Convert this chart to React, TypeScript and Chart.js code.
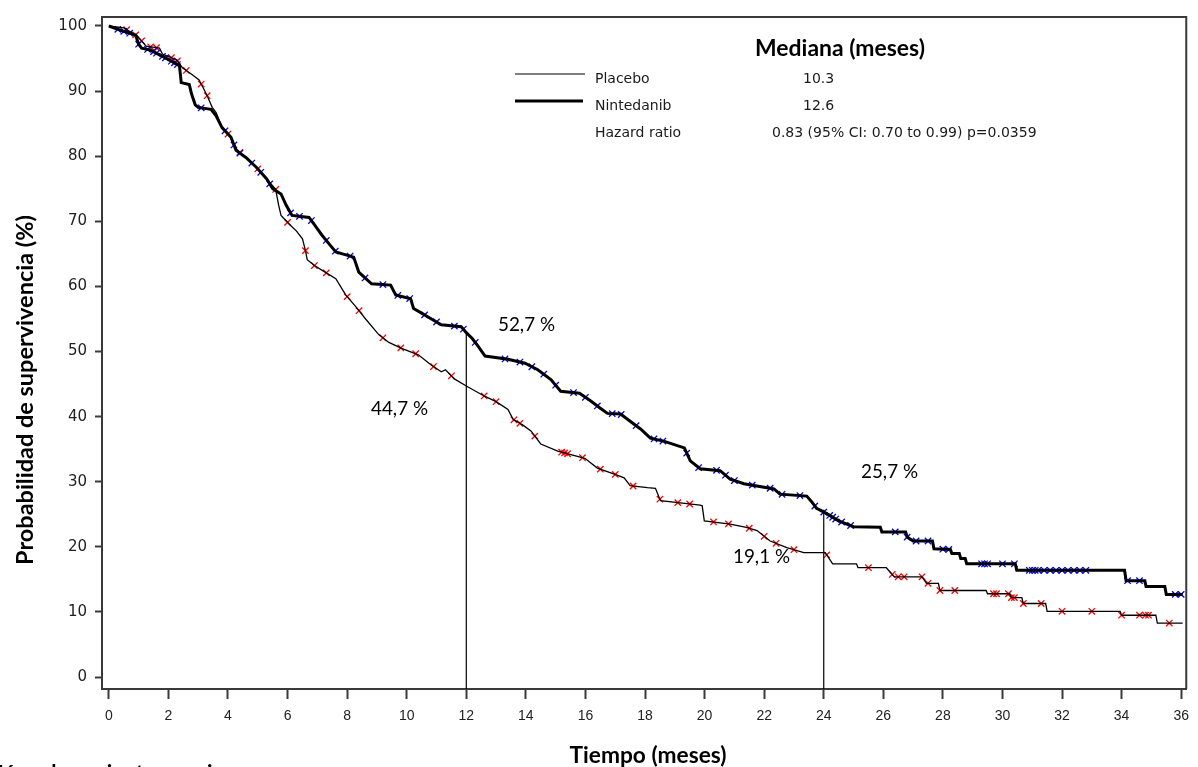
import React, { useEffect, useRef } from "react";
import { Chart, registerables } from "chart.js";

Chart.register(...registerables);

// ---------- data ----------
const xTicks = [0, 2, 4, 6, 8, 10, 12, 14, 16, 18, 20, 22, 24, 26, 28, 30, 32, 34, 36];
const yTicks = [0, 10, 20, 30, 40, 50, 60, 70, 80, 90, 100];

const nintedanibTimes = [0, 0.35, 0.9, 1.0, 1.1, 1.4, 1.9, 2.37, 2.43, 2.7, 2.78, 2.9, 3.0, 3.43, 3.6, 3.8, 4.1, 4.27, 4.6, 4.95, 5.3, 5.5, 5.78, 5.95, 6.15, 6.72, 6.9, 7.15, 7.4, 7.62, 8.22, 8.39, 8.6, 8.82, 9.46, 9.63, 10.13, 10.23, 10.5, 10.83, 11.16, 11.83, 12.0, 12.2, 12.4, 12.63, 13.4, 13.97, 14.4, 14.84, 15.17, 15.8, 16.18, 16.5, 16.74, 17.18, 17.5, 17.85, 18.18, 18.65, 19.32, 19.52, 19.85, 20.52, 20.86, 21.32, 22.33, 22.53, 23.43, 23.6, 23.76, 24.1, 24.5, 25.0, 25.9, 25.95, 26.75, 26.8, 27.0, 27.65, 27.7, 28.25, 28.3, 28.55, 28.6, 28.75, 28.8, 30.43, 30.48, 34.1, 34.15, 34.78, 34.82, 35.45, 35.5, 36.05];
const nintedanibSurv = [100, 99.4, 98.6, 97.2, 96.6, 96.3, 95.1, 93.9, 91.3, 91.0, 89.5, 87.9, 87.5, 87.2, 86.2, 84.4, 82.9, 80.9, 79.8, 78.3, 76.5, 75.0, 74.2, 72.5, 70.9, 70.6, 69.5, 67.9, 66.5, 65.3, 64.5, 62.2, 61.3, 60.4, 60.2, 58.7, 58.1, 56.6, 55.9, 55.0, 54.1, 53.8, 52.9, 52.0, 50.8, 49.3, 48.8, 48.2, 47.2, 45.7, 43.9, 43.6, 42.4, 41.3, 40.5, 40.4, 39.3, 38.1, 36.7, 36.2, 35.2, 33.2, 32.0, 31.7, 30.4, 29.7, 28.9, 28.1, 27.8, 26.9, 25.9, 25.1, 24.0, 23.1, 23.0, 22.3, 22.3, 21.5, 20.9, 20.9, 19.7, 19.6, 19.0, 19.0, 18.2, 18.2, 17.4, 17.4, 16.4, 16.4, 14.8, 14.8, 13.9, 13.9, 12.7, 12.7];

const placeboTimes = [0, 0.5, 0.95, 1.25, 1.7, 1.8, 2.27, 2.47, 2.8, 3.03, 3.2, 3.3, 3.47, 3.6, 3.8, 4.1, 4.3, 4.6, 4.95, 5.3, 5.6, 5.7, 5.78, 6.05, 6.3, 6.5, 6.6, 6.66, 6.9, 7.15, 7.62, 7.95, 8.29, 8.62, 9.06, 9.4, 9.83, 10.39, 10.8, 11.16, 11.3, 11.6, 12.0, 12.63, 13.0, 13.4, 13.57, 13.9, 14.17, 14.5, 15.07, 15.98, 16.4, 16.9, 17.3, 17.5, 18.08, 18.35, 18.52, 19.85, 19.92, 19.99, 20.86, 21.4, 21.76, 22.2, 22.76, 23.33, 24.05, 24.3, 25.1, 25.15, 26.1, 26.37, 27.3, 27.45, 27.85, 27.9, 29.45, 29.5, 30.25, 30.3, 30.65, 30.7, 31.45, 31.5, 33.95, 34.0, 35.15, 35.2, 36.05];
const placeboSurv = [100, 99.7, 98.5, 96.9, 96.6, 95.7, 94.8, 93.6, 92.5, 91.7, 90.2, 89.3, 87.5, 86.7, 84.4, 82.9, 81.0, 79.8, 78.3, 76.5, 74.9, 72.5, 70.9, 69.6, 68.5, 67.3, 65.5, 64.1, 63.2, 62.5, 61.2, 58.7, 56.9, 55.0, 52.6, 51.4, 50.5, 49.5, 48.0, 46.9, 47.2, 45.8, 44.7, 43.1, 42.3, 41.1, 39.6, 38.7, 37.8, 35.8, 34.7, 33.6, 32.1, 31.3, 30.6, 29.4, 29.1, 29.0, 27.1, 26.4, 26.3, 24.0, 23.5, 23.0, 22.5, 20.9, 19.9, 19.1, 19.1, 17.4, 17.4, 16.8, 16.8, 15.4, 15.4, 14.4, 14.4, 13.3, 13.3, 12.8, 12.8, 12.2, 12.2, 11.3, 11.3, 10.1, 10.1, 9.5, 9.5, 8.3, 8.3];

const nintedanibCensor = [0.3, 0.5, 0.7, 1.0, 1.3, 1.5, 1.6, 1.8, 1.9, 2.1, 2.2, 2.3, 3.1, 3.9, 4.2, 4.4, 4.8, 5.1, 5.4, 6.1, 6.4, 6.8, 7.3, 7.6, 8.1, 8.6, 9.2, 9.7, 10.1, 10.6, 11.0, 11.6, 11.9, 12.3, 13.3, 13.8, 14.2, 14.6, 15.0, 15.6, 16.0, 16.4, 16.9, 17.2, 17.7, 18.3, 18.6, 19.4, 19.8, 20.4, 20.7, 21.0, 21.6, 22.2, 22.6, 23.2, 23.7, 24.0, 24.2, 24.3, 24.4, 24.6, 24.9, 26.4, 26.8, 27.1, 27.5, 28.0, 28.2, 29.3, 29.4, 29.5, 30.0, 30.4, 30.9, 31.0, 31.1, 31.2, 31.4, 31.6, 31.8, 32.0, 32.2, 32.4, 32.6, 32.8, 34.2, 34.6, 35.8, 36.0];
const placeboCensor = [0.6, 0.9, 1.1, 1.4, 1.6, 2.1, 2.3, 2.6, 3.1, 3.3, 4.0, 4.4, 5.0, 5.6, 6.0, 6.6, 6.9, 7.3, 8.0, 8.4, 9.2, 9.8, 10.3, 10.9, 11.5, 12.6, 13.0, 13.6, 13.8, 14.3, 15.2, 15.3, 15.4, 15.9, 16.5, 17.0, 17.6, 18.5, 19.1, 19.5, 20.3, 20.8, 21.5, 22.0, 22.4, 23.0, 24.1, 25.5, 26.3, 26.5, 26.7, 27.3, 27.5, 27.9, 28.4, 29.7, 29.8, 30.2, 30.3, 30.4, 30.7, 31.3, 32.0, 33.0, 34.0, 34.6, 34.8, 34.9, 35.6];

const landmarkMonths = [12, 24];
const landmarkNintedanib = [52.7, 25.7];
const landmarkPlacebo = [44.7, 19.1];
const landmarkLabelsNintedanib = ["52,7 %", "25,7 %"];
const landmarkLabelsPlacebo = ["44,7 %", "19,1 %"];

const seriesNames = ["Placebo", "Nintedanib"];
const medianMonths = ["10.3", "12.6"];
const hazardLabel = "Hazard ratio";
const hazardText = "0.83 (95% CI: 0.70 to 0.99) p=0.0359";
const medianTitle = "Mediana (meses)";
const xTitle = "Tiempo (meses)";
const yTitle = "Probabilidad de supervivencia (%)";
const riskTitle = "Núm. de pacientes en riesgo";

const X_MIN = -0.23;
const X_MAX = 36.17;
const Y_MIN = -1.83;
const Y_MAX = 101.38;

function curveAt(ts: number[], ss: number[], t: number): number {
  if (t <= ts[0]) return ss[0];
  for (let i = 1; i < ts.length; i++) {
    if (t <= ts[i]) {
      const f = (t - ts[i - 1]) / (ts[i] - ts[i - 1] || 1);
      return ss[i - 1] + f * (ss[i] - ss[i - 1]);
    }
  }
  return ss[ss.length - 1];
}

function fitFont(ctx: CanvasRenderingContext2D, text: string, weight: string, family: string, width: number) {
  ctx.font = `${weight} 100px ${family}`;
  const w = ctx.measureText(text).width;
  const size = (100 * width) / w;
  ctx.font = `${weight} ${size.toFixed(2)}px ${family}`;
  return size;
}

const textPlugin = {
  id: "kmText",
  afterDraw(chart: any) {
    const ctx: CanvasRenderingContext2D = chart.ctx;
    const area = chart.chartArea;
    ctx.save();
    // frame (top and right)
    ctx.strokeStyle = "#3a3a3a";
    ctx.lineWidth = 2;
    ctx.beginPath();
    ctx.moveTo(area.left, area.top);
    ctx.lineTo(area.right, area.top);
    ctx.lineTo(area.right, area.bottom);
    ctx.stroke();

    const calibri = "Lato, 'Open Sans', sans-serif";
    ctx.fillStyle = "#000";
    ctx.textAlign = "left";
    ctx.textBaseline = "alphabetic";

    // median title
    fitFont(ctx, medianTitle, "bold", calibri, 170);
    ctx.fillText(medianTitle, 755, 56);

    // legend
    ctx.font = "14px 'DejaVu Sans'";
    ctx.fillStyle = "#1a1a1a";
    ctx.textBaseline = "middle";
    ctx.fillText(seriesNames[0], 595, 79);
    ctx.fillText(seriesNames[1], 595, 106);
    ctx.fillText(hazardLabel, 595, 133);
    ctx.fillText(medianMonths[0], 803, 79);
    ctx.fillText(medianMonths[1], 803, 106);
    ctx.fillText(hazardText, 772, 133);

    ctx.strokeStyle = "#000";
    ctx.lineWidth = 1.2;
    ctx.beginPath();
    ctx.moveTo(515, 74);
    ctx.lineTo(585, 74);
    ctx.stroke();
    ctx.lineWidth = 3;
    ctx.beginPath();
    ctx.moveTo(515, 101);
    ctx.lineTo(583, 101);
    ctx.stroke();

    // landmark annotations
    ctx.fillStyle = "#000";
    ctx.textBaseline = "alphabetic";
    fitFont(ctx, landmarkLabelsNintedanib[0], "normal", calibri, 57);
    ctx.fillText(landmarkLabelsNintedanib[0], 498, 331);
    ctx.fillText(landmarkLabelsPlacebo[0], 371, 415);
    ctx.fillText(landmarkLabelsNintedanib[1], 861, 478);
    ctx.fillText(landmarkLabelsPlacebo[1], 733, 563);

    // axis titles
    fitFont(ctx, xTitle, "bold", calibri, 157);
    ctx.textAlign = "center";
    ctx.fillText(xTitle, 648, 763);

    const rSize = fitFont(ctx, riskTitle, "bold", calibri, 270);
    ctx.textAlign = "right";
    ctx.fillText(riskTitle, 257, 764 + rSize * 0.72);

    ctx.save();
    ctx.translate(25, 390);
    ctx.rotate(-Math.PI / 2);
    fitFont(ctx, yTitle, "bold", calibri, 350);
    ctx.textAlign = "center";
    ctx.textBaseline = "middle";
    ctx.fillText(yTitle, 0, 0);
    ctx.restore();

    ctx.restore();
  },
};

export default function App() {
  const canvasRef = useRef<HTMLCanvasElement | null>(null);

  useEffect(() => {
    const canvas = canvasRef.current;
    if (!canvas) return;

    const nData = nintedanibTimes.map((t, i) => ({ x: t, y: nintedanibSurv[i] }));
    const pData = placeboTimes.map((t, i) => ({ x: t, y: placeboSurv[i] }));
    const nCens = nintedanibCensor.map((t) => ({ x: t, y: curveAt(nintedanibTimes, nintedanibSurv, t) }));
    const pCens = placeboCensor.map((t) => ({ x: t, y: curveAt(placeboTimes, placeboSurv, t) }));

    const landmarkSets = landmarkMonths.map((m, i) => ({
      label: "landmark" + m,
      data: [
        { x: m, y: Y_MIN },
        { x: m, y: landmarkNintedanib[i] },
      ],
      borderColor: "#000",
      borderWidth: 1.2,
      pointRadius: 0,
      order: 0,
    }));

    const axisColor = "#3a3a3a";

    const chart = new Chart(canvas, {
      type: "line",
      data: {
        datasets: [
          {
            label: "Nintedanib",
            data: nData,
            borderColor: "#000",
            borderWidth: 3,
            pointRadius: 0,
            order: 1,
          },
          {
            label: "Placebo",
            data: pData,
            borderColor: "#000",
            borderWidth: 1.3,
            pointRadius: 0,
            order: 1,
          },
          {
            label: "Nintedanib censored",
            data: nCens,
            showLine: false,
            pointStyle: "crossRot",
            pointRadius: 4.5,
            pointBorderWidth: 1.3,
            pointBorderColor: "#0000ff",
            borderColor: "#0000ff",
            order: 3,
          },
          {
            label: "Placebo censored",
            data: pCens,
            showLine: false,
            pointStyle: "crossRot",
            pointRadius: 4.5,
            pointBorderWidth: 1.3,
            pointBorderColor: "#ff0000",
            borderColor: "#ff0000",
            order: 3,
          },
          ...landmarkSets,
        ] as any,
      },
      options: {
        animation: false,
        responsive: false,
        devicePixelRatio: 1,
        layout: { padding: { left: 0, top: 14, right: 4, bottom: 0 } },
        plugins: {
          legend: { display: false },
          tooltip: { enabled: false },
        },
        elements: { line: { tension: 0 } },
        scales: {
          x: {
            type: "linear",
            min: X_MIN,
            max: X_MAX,
            afterFit: (scale: any) => {
              scale.height = 78;
            },
            afterBuildTicks: (scale: any) => {
              scale.ticks = xTicks.map((v) => ({ value: v }));
            },
            grid: {
              drawOnChartArea: false,
              drawTicks: true,
              tickLength: 10,
              tickColor: axisColor,
              tickWidth: 2,
            },
            border: { display: true, color: axisColor, width: 2 },
            ticks: {
              color: "#222",
              font: { family: "'Liberation Sans'", size: 14 },
              padding: 9,
              maxRotation: 0,
              autoSkip: false,
            },
          },
          y: {
            type: "linear",
            min: Y_MIN,
            max: Y_MAX,
            afterFit: (scale: any) => {
              scale.width = 102;
            },
            afterBuildTicks: (scale: any) => {
              scale.ticks = yTicks.map((v) => ({ value: v }));
            },
            grid: {
              drawOnChartArea: false,
              drawTicks: true,
              tickLength: 7,
              tickColor: axisColor,
              tickWidth: 2,
            },
            border: { display: true, color: axisColor, width: 2 },
            ticks: {
              color: "#222",
              font: { family: "'DejaVu Sans'", size: 15 },
              padding: 8,
              autoSkip: false,
            },
          },
        },
      } as any,
      plugins: [textPlugin],
    });

    return () => {
      chart.destroy();
    };
  }, []);

  return (
    <div style={{ position: "absolute", left: 0, top: 0, width: 1198, height: 767, background: "#fff", overflow: "hidden" }}>
      <canvas ref={canvasRef} width={1198} height={767} style={{ display: "block", width: 1198, height: 767 }} />
    </div>
  );
}
